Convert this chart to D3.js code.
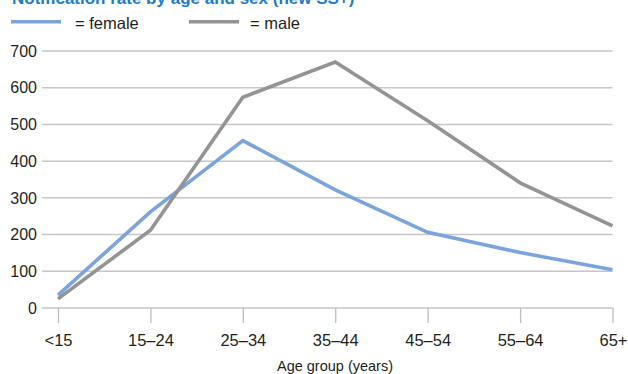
<!DOCTYPE html>
<html><head><meta charset="utf-8">
<script src="https://cdn.jsdelivr.net/npm/d3@7"></script>
<style>body{margin:0;background:#fff}svg{display:block}</style>
</head><body>
<script>
const categories = ["<15","15–24","25–34","35–44","45–54","55–64","65+"];
const female = [35, 262, 456, 322, 206, 151, 104];
const male = [25, 212, 574, 670, 510, 341, 224];
const yTicks = [0,100,200,300,400,500,600,700];
const seriesNames = ["female","male"];
const title = "Notification rate by age and sex (new SS+)";
const xTitle = "Age group (years)";

const W = 628, H = 374;
const font = "'Liberation Sans', Arial, sans-serif";
const colors = {female:"#7ba3dc", male:"#949494"};
const svg = d3.select("body").append("svg").attr("width",W).attr("height",H);

const x = d3.scalePoint().domain(categories).range([58, 612.5]);
const y = d3.scaleLinear().domain([0,700]).range([308, 51]);
const left = 42, right = 612.5;

// title (partly cut off at top, as in the source)
svg.append("text").attr("x",12).attr("y",4).attr("font-family",font)
  .attr("font-weight","bold").attr("font-size",17).attr("fill","#1f7bc6").text(title);

// legend
const legX = [{l:11,t:75},{l:189,t:250}];
seriesNames.forEach((s,i)=>{
  svg.append("line").attr("x1",legX[i].l).attr("x2",legX[i].l+50).attr("y1",21.7).attr("y2",21.7)
    .attr("stroke",colors[s]).attr("stroke-width",3.5);
  svg.append("text").attr("x",legX[i].t).attr("y",29).attr("font-family",font).attr("font-size",16.5)
    .attr("fill","#231f20").text("= "+s);
});

// gridlines
svg.append("g").selectAll("line").data(yTicks).join("line")
  .attr("x1",left).attr("x2",right).attr("y1",d=>y(d)).attr("y2",d=>y(d))
  .attr("stroke","#c6c6c6").attr("stroke-width",1.5);

// y labels
svg.append("g").selectAll("text").data(yTicks).join("text")
  .attr("x",37).attr("y",d=>y(d)).attr("dy","0.36em").attr("text-anchor","end")
  .attr("font-family",font).attr("font-size",16).attr("fill","#231f20").text(d=>d);

// x axis
const xAxis = d3.axisBottom(x).tickSize(15).tickPadding(11).tickSizeOuter(0);
const gx = svg.append("g").attr("transform",`translate(0,${y(0)})`).call(xAxis);
gx.select(".domain").remove();
gx.selectAll(".tick line").attr("stroke","#bdbdbd").attr("stroke-width",1.3);
gx.selectAll(".tick text").attr("font-family",font).attr("font-size",16.5).attr("fill","#231f20");
gx.selectAll(".tick text").filter((d,i)=> i===categories.length-1)
  .attr("text-anchor","end").attr("dx",14.5);

svg.append("text").attr("x",335).attr("y",371).attr("text-anchor","middle").attr("font-family",font)
  .attr("font-size",14.5).attr("fill","#231f20").text(xTitle);

// lines
const line = d3.line().x((d,i)=>x(categories[i])).y(d=>y(d));
[["female",female],["male",male]].forEach(([s,vals])=>{
  svg.append("path").datum(vals).attr("d",line).attr("fill","none")
    .attr("stroke",colors[s]).attr("stroke-width",3.6).attr("stroke-linejoin","miter");
});
</script>
</body></html>
